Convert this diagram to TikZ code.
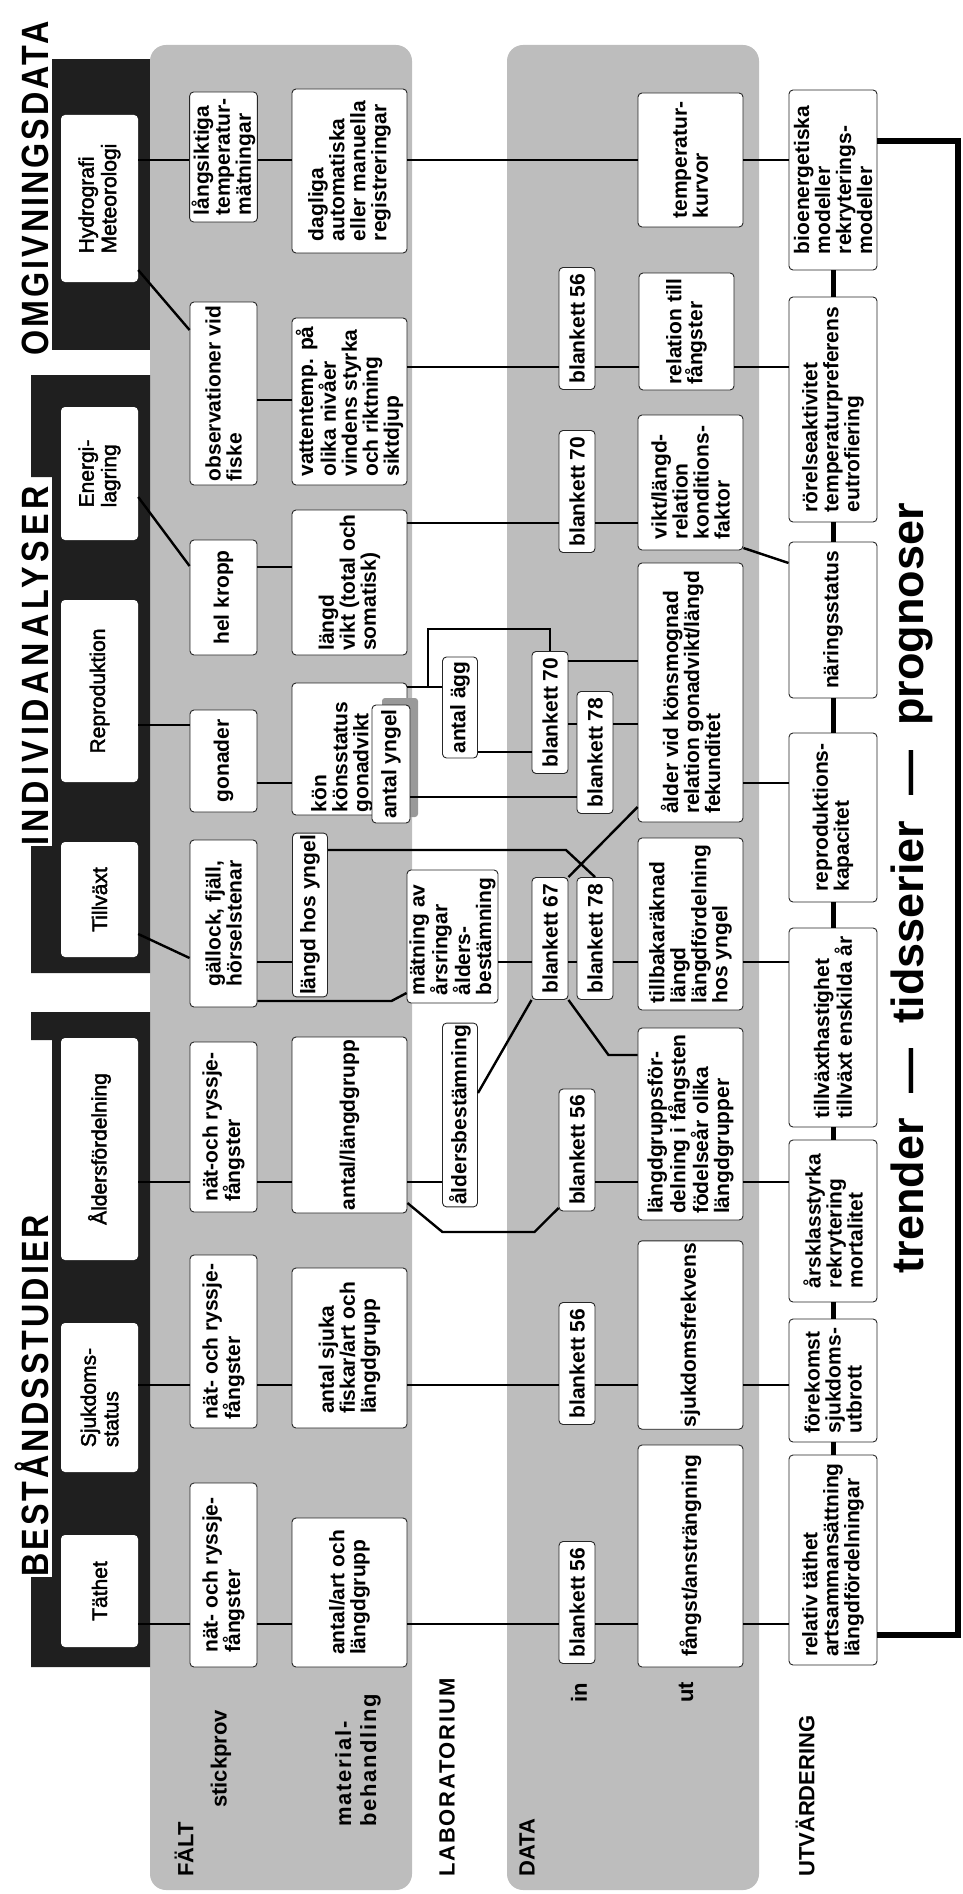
\documentclass[tikz,border=0pt]{standalone}
\usepackage{fontspec}
\setmainfont{Liberation Sans}
\newfontfamily\ttlfam[FakeStretch=0.85, LetterSpace=8]{Liberation Sans}
\newfontfamily\widefam[LetterSpace=8]{Liberation Sans}
\newfontfamily\hdrfam[FakeBold=2]{Liberation Sans}

\newcommand{\boxfont}{\bfseries\fontsize{21}{21}\selectfont}
\newcommand{\hdrfont}{\hdrfam\fontsize{21}{22.5}\selectfont}
\newcommand{\rowfont}{\bfseries\fontsize{22}{25}\selectfont}
\newcommand{\widerowfont}{\widefam\bfseries\fontsize{22}{25}\selectfont}
\newcommand{\titlefont}{\ttlfam\bfseries\fontsize{38}{42}\selectfont}
\newcommand{\trendfont}{\bfseries\fontsize{45}{48}\selectfont}

\begin{document}
\begin{tikzpicture}[x=1pt, y=-1pt,
    box/.style={draw=black!85, line width=0.9pt, fill=white, rounded corners=4pt,
      rotate=90, font=\boxfont, align=left, inner sep=2pt},
    fieldbox/.style={box, minimum height=67pt},
    workbox/.style={box, minimum height=115pt},
    labbox/.style={box, minimum height=35pt},
    formbox/.style={box, minimum height=36pt, minimum width=122pt},
    outbox/.style={box, minimum height=105pt},
    evalbox/.style={box, minimum height=88pt},
    hdr/.style={fill=white, rounded corners=4pt, rotate=90, font=\hdrfont,
      align=left, minimum height=77pt, inner sep=2pt},
    rowname/.style={rotate=90, font=\rowfont, align=left, anchor=west, inner sep=0pt},
    title/.style={rotate=90, font=\titlefont, anchor=base west, inner sep=0pt},
    tab/.style={fill=black!88},
    band/.style={fill=black!26, rounded corners=16pt},
    conn/.style={line width=2.4pt},
    chain/.style={line width=5pt},
    frame/.style={line width=6pt, line join=miter},
  ]
\useasboundingbox (0,0) rectangle (963,1894);

% bands and tabs
\fill[band] (150,45) rectangle (412,1890);
\fill[band] (507,45) rectangle (759,1890);
\fill[tab] (52,59) rectangle (150,350);
\fill[tab] (52,477) -- (31,477) -- (31,375) -- (150,375) -- (150,973) -- (31,973) -- (31,846) -- (52,846) -- cycle;
\fill[tab] (52,1040) -- (31,1040) -- (31,1012) -- (150,1012) -- (150,1667) -- (31,1667) -- (31,1577) -- (52,1577) -- cycle;

\node[title] (tB) at (48,1577) {BESTÅNDSSTUDIER};
\node[title] (tI) at (48,846) {\addfontfeature{LetterSpace=12.5}INDIVIDANALYSER};
\node[title] (tO) at (48,356) {OMGIVNINGSDATA};

\node[rowname] (nF) at (184,1877) {FÄLT};
\node[rowname] (nS) at (221,1808) {stickprov};
\node[rowname, font=\widerowfont] (nM) at (358,1827) {material-\\behandling};
\node[rowname, font=\widerowfont] (nL) at (447,1877) {LABORATORIUM};
\node[rowname] (nD) at (527,1877) {DATA};
\node[rowname] (nI) at (579,1703) {in};
\node[rowname] (nU) at (686,1703) {ut};
\node[rowname] (nE) at (805,1877) {UTVÄRDERING};

% headers
\node[hdr, minimum width=112pt] (hT) at (99.5,1591) {Täthet};
\node[hdr, minimum width=149pt] (hS) at (99.5,1397.5) {Sjukdoms-\\status};
\node[hdr, minimum width=222pt] (hA) at (99.5,1149) {Åldersfördelning};
\node[hdr, minimum width=115pt] (hV) at (99.5,899.5) {Tillväxt};
\node[hdr, minimum width=182pt] (hR) at (99.5,691) {Reproduktion};
\node[hdr, minimum width=133pt] (hE) at (99.5,473.5) {Energi-\\lagring};
\node[hdr, minimum width=167pt] (hH) at (99.5,198.5) {Hydrografi\\Meteorologi};

% stickprov
\node[fieldbox, minimum width=184pt] (a1) at (223.5,1575) {nät- och ryssje-\\fångster};
\node[fieldbox, minimum width=173pt] (b1) at (223.5,1341.5) {nät- och ryssje-\\fångster};
\node[fieldbox, minimum width=170pt] (c1) at (223.5,1127) {nät-och ryssje-\\fångster};
\node[fieldbox, minimum width=167pt] (d1) at (223.5,923.5) {gällock, fjäll,\\hörselstenar};
\node[fieldbox, minimum width=102pt] (e1) at (223.5,761) {gonader};
\node[fieldbox, minimum width=115pt] (f1) at (223.5,597.5) {hel kropp};
\node[fieldbox, minimum width=183pt] (g1) at (223.5,393.5) {observationer vid\\fiske};
\node[fieldbox, minimum width=130pt] (h1) at (223.5,157) {långsiktiga\\temperatur-\\mätningar};

% materialbehandling
\node[workbox, minimum width=149pt] (a2) at (349.5,1592.5) {antal/art och\\längdgrupp};
\node[workbox, minimum width=160pt] (b2) at (349.5,1348) {antal sjuka\\fiskar/art och\\längdgrupp};
\node[workbox, minimum width=176pt] (c2) at (349.5,1125) {antal/längdgrupp};
\node[labbox, minimum width=156pt] (d2) at (310,915) {längd hos yngel};
\node[workbox, minimum width=132pt] (e2) at (349.5,749) {};
\node[rotate=90, font=\boxfont, align=left] (e2t) at (342,757) {kön\\könsstatus\\gonadvikt};
\fill[black!40, rounded corners=3pt] (382,698) rectangle (418,817);
\node[labbox, minimum width=118pt, minimum height=38pt] (e2b) at (391,764) {antal yngel};
\node[workbox, minimum width=145pt] (f2) at (349.5,582.5) {längd\\vikt (total och\\somatisk)};
\node[workbox, minimum width=167pt] (g2) at (349.5,401.5) {vattentemp. på\\olika nivåer\\vindens styrka\\och riktning\\siktdjup};
\node[workbox, minimum width=164pt] (h2) at (349.5,171) {dagliga\\automatiska\\eller manuella\\registreringar};

% laboratorium
\node[labbox, minimum width=180pt] (c3) at (460,1115) {åldersbestämning};
\node[box, minimum width=133pt, minimum height=91pt] (d3) at (452.5,936.5) {mätning av\\årsringar\\ålders-\\bestämning};
\node[labbox, minimum width=101pt] (e3) at (460,707.5) {antal ägg};

% data in
\node[formbox] (a4) at (577,1602.5) {blankett 56};
\node[formbox] (b4) at (577,1363.5) {blankett 56};
\node[formbox] (c4) at (577,1150) {blankett 56};
\node[formbox] (d4) at (550,938.5) {blankett 67};
\node[formbox] (d4b) at (595,938.5) {blankett 78};
\node[formbox] (e4) at (550,712.5) {blankett 70};
\node[formbox] (e4b) at (595,752.5) {blankett 78};
\node[formbox] (f4) at (577,491.5) {blankett 70};
\node[formbox] (g4) at (577,328.5) {blankett 56};

% data ut
\node[outbox, minimum width=222pt] (a5) at (690.5,1556) {fångst/ansträngning};
\node[outbox, minimum width=184pt] (b5) at (690.5,1335) {sjukdomsfrekvens};
\node[outbox, minimum width=192pt] (c5) at (690.5,1124) {längdgruppsför-\\delning i fångsten\\födelseår olika\\längdgrupper};
\node[outbox, minimum width=172pt] (d5) at (690.5,924) {tillbakaräknad\\längd\\längdfördelning\\hos yngel};
\node[outbox, minimum width=259pt] (e5) at (690.5,692.5) {ålder vid könsmognad\\relation gonadvikt/längd\\fekunditet};
\node[outbox, minimum width=135pt] (f5) at (690.5,482.5) {vikt/längd-\\relation\\konditions-\\faktor};
\node[outbox, minimum width=117pt, minimum height=95pt] (g5) at (686.5,331.5) {relation till\\fångster};
\node[outbox, minimum width=134pt] (h5) at (690.5,160) {temperatur-\\kurvor};

% utvardering
\node[evalbox, minimum width=210pt] (a6) at (833,1560) {relativ täthet\\artsammansättning\\längdfördelningar};
\node[evalbox, minimum width=123pt] (b6) at (833,1380.5) {förekomst\\sjukdoms-\\utbrott};
\node[evalbox, minimum width=162pt] (c6) at (833,1221) {årsklasstyrka\\rekrytering\\mortalitet};
\node[evalbox, minimum width=199pt] (d6) at (833,1027.5) {tillväxthastighet\\tillväxt enskilda år};
\node[evalbox, minimum width=169pt] (e6) at (833,817.5) {reproduktions-\\kapacitet};
\node[evalbox, minimum width=156pt] (f6) at (833,620) {näringsstatus};
\node[evalbox, minimum width=225pt] (g6) at (833,409.5) {rörelseaktivitet\\temperaturpreferens\\eutrofiering};
\node[evalbox, minimum width=180pt] (h6) at (833,180) {bioenergetiska\\modeller\\rekryterings-\\modeller};

\node[rotate=90, font=\trendfont] (trend) at (912,888) {trender \ — \ tidsserier \ — \ prognoser};

% connectors
\coordinate (lT) at (0,1624);
\coordinate (lS) at (0,1385);
\coordinate (lA) at (0,1182);
\coordinate (lV) at (0,962);
\coordinate (lH) at (0,160);
\coordinate (split) at (428,687);
\coordinate (fr) at (958,1635);

\foreach \p/\q in {hT/a1, a1/a2, a2/a4, a4/a5, a5/a6}
  \draw[conn] (\p.south |- lT) -- (\q.north |- lT);
\foreach \p/\q in {hS/b1, b1/b2, b2/b4, b4/b5, b5/b6}
  \draw[conn] (\p.south |- lS) -- (\q.north |- lS);
\foreach \p/\q in {hA/c1, c1/c2, c2/c3, c4/c5, c5/c6}
  \draw[conn] (\p.south |- lA) -- (\q.north |- lA);
\foreach \p/\q in {d1/d2, d3/d4, d4/d4b, d4b/d5, d5/d6}
  \draw[conn] (\p.south |- lV) -- (\q.north |- lV);
\foreach \p/\q in {hH/h1, h1/h2, h2/h5, h5/h6}
  \draw[conn] (\p.south |- lH) -- (\q.north |- lH);

\draw[conn] (c2.south |- 0,1203) -- ++(35,29) -- ++(92,0) -- (c4.north |- 0,1208);
\draw[conn] (c3.south |- 0,1093) -- (d4.north west);
\draw[conn] (d4.south west) -- ++(40,55) -- (c5.north |- 0,1055);
\draw[conn] (hV.south |- 0,934) -- (d1.north |- 0,958);
\draw[conn] (d1.south |- 0,1001) -- ++(134,0) -- (d3.north |- 0,993);
\draw[conn] (d2.south |- 0,850) -- ++(238,0) -- (d4b.east);
\draw[conn] (d4.south east) -- (e5.north |- 0,807);

\draw[conn] (hR.south |- 0,725) -- (e1.north |- 0,725);
\draw[conn] (e1.south |- 0,783) -- (e2.north |- 0,783);
\draw[conn] (e2.south |- split) -- (e3.north |- split);
\draw[conn] (split) |- (e4.east |- 0,629) -- (e4.east);
\draw[conn] (e3.south |- 0,752) -- (e4.north |- 0,752);
\draw[conn] (e2b.south |- 0,797) -- (e4b.north |- 0,797);
\draw[conn] (e4.south |- 0,661) -- (e5.north |- 0,661);
\draw[conn] (e4.south |- 0,724) -- (e4b.north |- 0,724);
\draw[conn] (e4b.south |- 0,724) -- (e5.north |- 0,724);
\draw[conn] (e5.south |- 0,783) -- (e6.north |- 0,783);

\draw[conn] (hE.south |- 0,497) -- (f1.north |- 0,566);
\draw[conn] (f1.south |- 0,567) -- (f2.north |- 0,567);
\draw[conn] (f2.south |- 0,523) -- (f4.north |- 0,523);
\draw[conn] (f4.south |- 0,523) -- (f5.north |- 0,523);
\draw[conn] (f5.south |- 0,548) -- (f6.north |- 0,563);

\draw[conn] (hH.south |- 0,270) -- (g1.north |- 0,330);
\draw[conn] (g1.south |- 0,400) -- (g2.north |- 0,400);
\foreach \p/\q in {g2/g4, g4/g5, g5/g6}
  \draw[conn] (\p.south |- 0,367) -- (\q.north |- 0,367);

\foreach \p/\q in {h6/g6, g6/f6, f6/e6, e6/d6, d6/c6, c6/b6, b6/a6}
  \draw[chain] (\p.west) -- (\q.east);
\draw[frame] (h6.south |- 0,141) -| (fr) -- (a6.south |- fr);
\end{tikzpicture}
\end{document}
